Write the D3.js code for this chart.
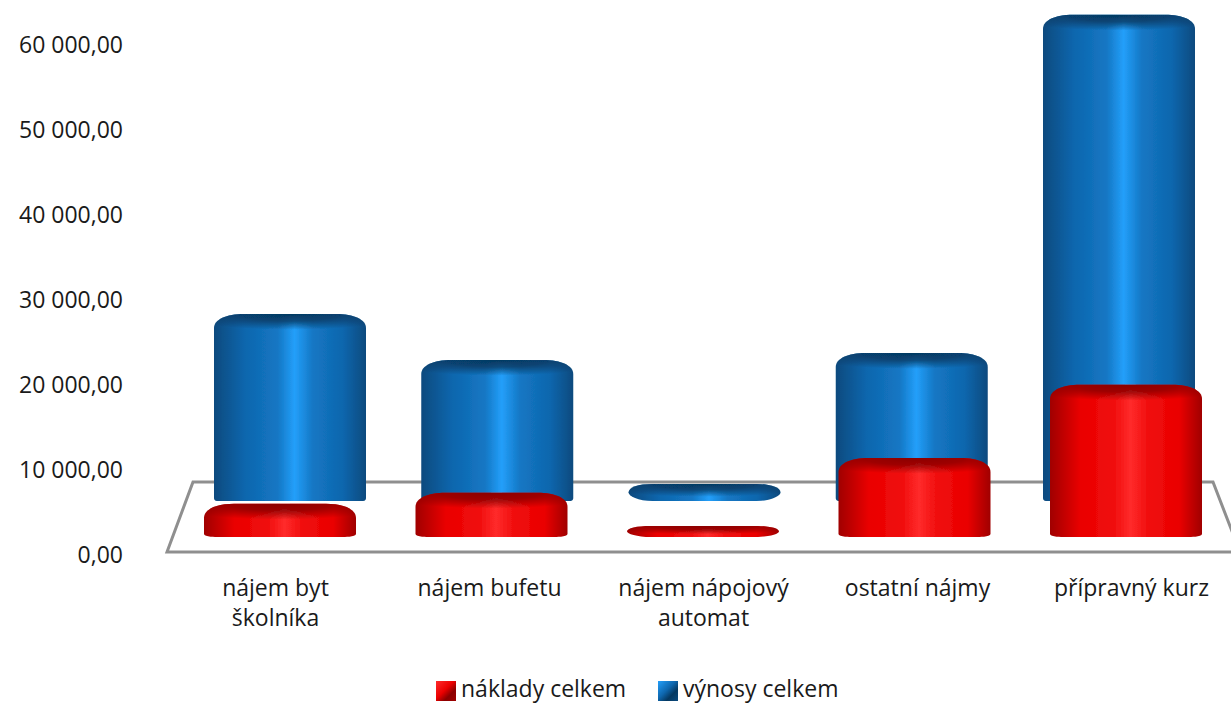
<!DOCTYPE html>
<html>
<head>
<meta charset="utf-8">
<script src="https://cdnjs.cloudflare.com/ajax/libs/d3/7.8.5/d3.min.js"></script>
<style>
  html, body { margin: 0; padding: 0; background: #fff; overflow: hidden; }
  text { font-family: "Open Sans", sans-serif; font-size: 23px; fill: #1a1a1a; }
</style>
</head>
<body>
<div id="chart"></div>
<script>
/**
 * DATA
 * */
const categories = ["nájem byt školníka", "nájem bufetu", "nájem nápojový automat", "ostatní nájmy", "přípravný kurz"];
const categoryLines = [["nájem byt", "školníka"], ["nájem bufetu"], ["nájem nápojový", "automat"], ["ostatní nájmy"], ["přípravný kurz"]];
const naklady = [3900, 5200, 1300, 9300, 17900];
const vynosy = [22000, 16600, 2000, 17400, 57200];
const yTicks = [0, 10000, 20000, 30000, 40000, 50000, 60000];
const legendLabels = ["náklady celkem", "výnosy celkem"];

/**
 * CONSTANTS
 * */
const width = 1231,
  height = 704,
  barWidth = 152;

const svg = d3
  .select("#chart")
  .append("svg")
  .attr("width", width)
  .attr("height", height);

const defs = svg.append("defs");

const y = d3.scaleLinear().domain([0, 60000]).range([554, 44]);

// the picture has perspective: the back row (blue) sits on a narrower spread than the front row
const xLabels = d3.scalePoint().domain(categories).range([275, 1131]);
const xRed = d3.scalePoint().domain(categories).range([280, 1126]);
const xBlue = d3.scalePoint().domain(categories).range([290, 1119]);

const format = d3.formatLocale({ decimal: ",", thousands: " ", grouping: [3], currency: ["", ""] }).format(",.2f");

// series look, base is how far the row stands above the zero line
const red = { name: "red", base: 17, foot: 13, x: xRed, edge: "#a00000", mid: "#ea0000", light: "#ff2b2b", cap: "#8a0000" };
const blue = { name: "blue", base: 53, foot: 3, x: xBlue, edge: "#0a4a7e", mid: "#0e66ad", light: "#239ffa", cap: "#053860" };

[red, blue].forEach(s => {
  const mix = d3.interpolateRgb(s.mid, s.light)(0.3);
  const body = defs
    .append("linearGradient")
    .attr("id", `body-${s.name}`)
    .attr("x1", 0)
    .attr("x2", 1);
  [[0, s.edge], [0.2, s.mid], [0.42, mix], [0.53, s.light], [0.65, mix], [0.85, s.mid], [1, s.edge]].forEach(([o, c]) =>
    body.append("stop").attr("offset", o).attr("stop-color", c)
  );

  const cap = defs
    .append("radialGradient")
    .attr("id", `cap-${s.name}`)
    .attr("cx", 0.5)
    .attr("cy", 0)
    .attr("r", 0.75);
  cap.append("stop").attr("offset", 0).attr("stop-color", s.cap).attr("stop-opacity", 1);
  cap.append("stop").attr("offset", 0.45).attr("stop-color", s.cap).attr("stop-opacity", 0.8);
  cap.append("stop").attr("offset", 1).attr("stop-color", s.cap).attr("stop-opacity", 0);

  const swatch = defs
    .append("linearGradient")
    .attr("id", `swatch-${s.name}`)
    .attr("x1", 0)
    .attr("y1", 0)
    .attr("x2", 1)
    .attr("y2", 1);
  swatch.append("stop").attr("offset", 0).attr("stop-color", s.light);
  swatch.append("stop").attr("offset", 0.45).attr("stop-color", s.mid);
  swatch.append("stop").attr("offset", 0.7).attr("stop-color", s.cap);
  swatch.append("stop").attr("offset", 1).attr("stop-color", s.edge);
});

// the reference is a soft jpeg, so the marks get a slight blur
defs
  .append("filter")
  .attr("id", "soft")
  .append("feGaussianBlur")
  .attr("stdDeviation", 0.6);

/**
 * FLOOR
 * */
const floorFront = y(0) - 2,
  floorBack = y(0) - 72;

svg
  .append("path")
  .attr("d", d3.line()([[167, floorFront], [193, floorBack], [1213, floorBack], [1240, floorFront]]) + "Z")
  .attr("fill", "#fff")
  .attr("stroke", "#8f8f8f")
  .attr("stroke-width", 3);

/**
 * AXES
 * */
const yAxis = svg
  .append("g")
  .attr("transform", "translate(123,1)")
  .call(d3.axisLeft(y).tickValues(yTicks).tickSize(0).tickPadding(0).tickFormat(format));
yAxis.select(".domain").remove();

const xAxis = svg
  .append("g")
  .attr("transform", `translate(0,${y(0)})`)
  .call(d3.axisBottom(xLabels).tickSize(0).tickFormat(""));
xAxis.select(".domain").remove();
xAxis
  .selectAll(".tick text")
  .attr("y", 0)
  .attr("dy", 0)
  .selectAll("tspan")
  .data((d, i) => categoryLines[i])
  .join("tspan")
  .attr("x", 0)
  .attr("y", (d, i) => 42 + i * 30)
  .text(d => d);

/**
 * BARS
 * */
function barPath(cx, top, bottom, foot) {
  const l = cx - barWidth / 2,
    r = cx + barWidth / 2,
    h = bottom - top,
    flat = h < 20, // the low bars read as flat discs
    sx = flat ? 24 : 30, // shoulder of the cylinder
    sy = flat ? h * 0.5 : 14,
    bx = flat ? 24 : foot,
    by = flat ? h * 0.5 : 3,
    round = flat ? 0.4 : 1; // discs curve round at the foot, taller bars just chamfer
  return `M${l},${top + sy}
    C${l},${top + sy * 0.4} ${l + sx * 0.4},${top} ${l + sx},${top}
    L${r - sx},${top}
    C${r - sx * 0.4},${top} ${r},${top + sy * 0.4} ${r},${top + sy}
    L${r},${bottom - by}
    C${r},${bottom - by * (1 - round)} ${r - bx * round},${bottom} ${r - bx},${bottom}
    L${l + bx},${bottom}
    C${l + bx * round},${bottom} ${l},${bottom - by * (1 - round)} ${l},${bottom - by}Z`;
}

function drawSeries(values, s) {
  const g = svg.append("g").attr("class", `series-${s.name}`).attr("filter", "url(#soft)");
  const rows = categories.map((c, i) => ({
    cat: c,
    top: y(values[i]) - s.base,
    bottom: y(0) - s.base
  }));

  g.selectAll(".bar")
    .data(rows)
    .join("path")
    .attr("class", "bar")
    .attr("d", d => barPath(s.x(d.cat), d.top, d.bottom, s.foot))
    .attr("fill", `url(#body-${s.name})`);

  g.selectAll(".cap")
    .data(rows)
    .join("path")
    .attr("class", "cap")
    .attr("d", d => barPath(s.x(d.cat), d.top, Math.min(d.bottom, d.top + 21), 0))
    .attr("fill", `url(#cap-${s.name})`);
}

drawSeries(vynosy, blue);
drawSeries(naklady, red);

/**
 * LEGEND
 * */
const legendX = d3.scaleOrdinal().domain(legendLabels).range([436, 658]);
const legend = svg
  .selectAll(".legend")
  .data(legendLabels.map((label, i) => ({ label, s: [red, blue][i] })))
  .join("g")
  .attr("class", "legend")
  .attr("transform", d => `translate(${legendX(d.label)},681)`);

legend
  .append("rect")
  .attr("width", 20)
  .attr("height", 20)
  .attr("fill", d => `url(#swatch-${d.s.name})`);

legend
  .append("text")
  .attr("x", 25)
  .attr("y", 8)
  .attr("dy", "0.36em")
  .text(d => d.label);
</script>
</body>
</html>
